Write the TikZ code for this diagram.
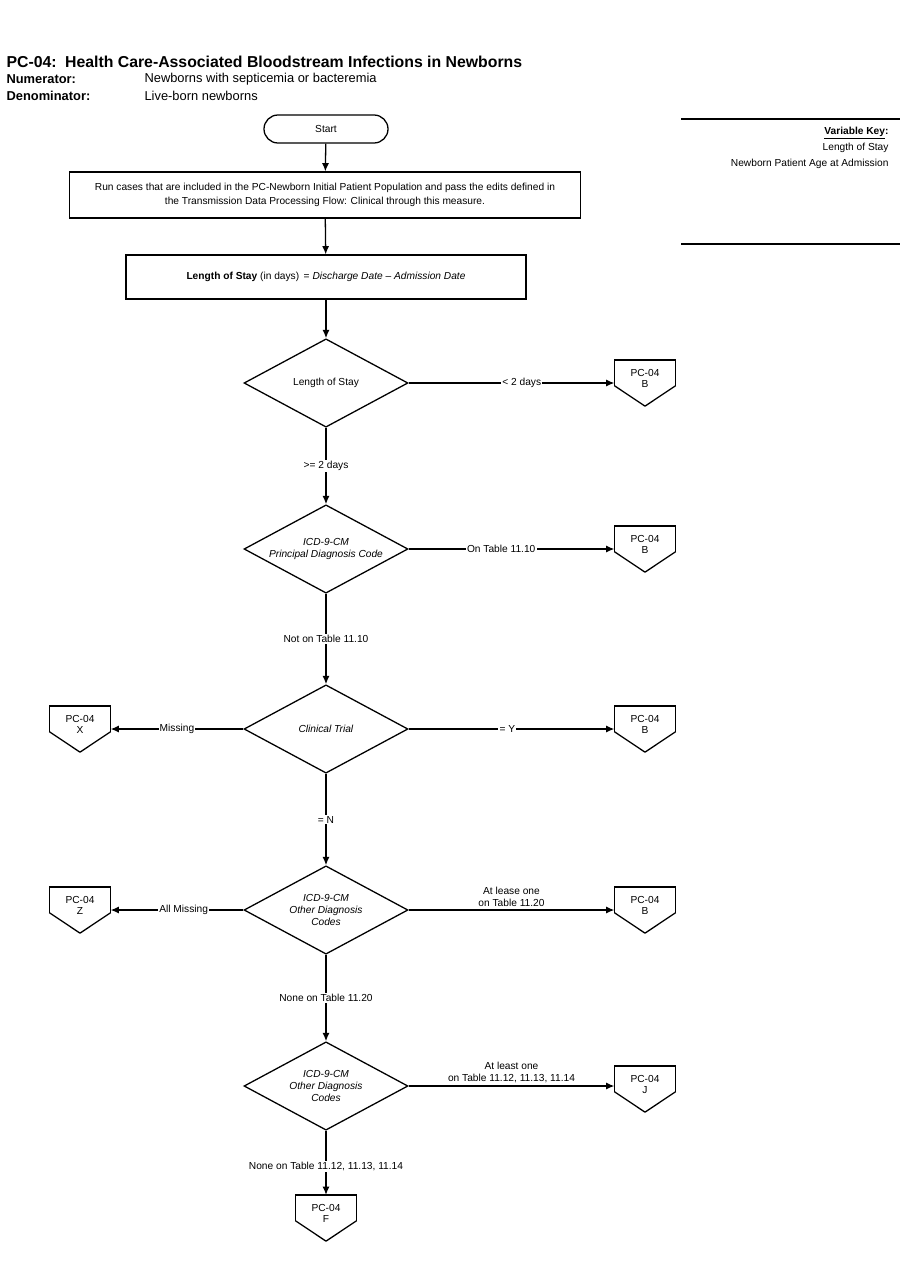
\documentclass[tikz,border=0pt]{standalone}
\usepackage{fontspec}
\setmainfont{Liberation Sans}
\usetikzlibrary{shapes.geometric,positioning,arrows.meta}
\begin{document}
\begin{tikzpicture}[x=0.03cm,y=-0.03cm,font=\fontsize{8.7}{10.5}\selectfont,line width=1.1pt]

\tikzset{>={Latex[length=7pt,width=6pt]}}
\tikzset{
  procbox/.style={draw,align=center,inner sep=0pt},
  decision/.style={draw,diamond,inner sep=0pt,
    minimum width=4.92cm,minimum height=2.65cm,label={[align=center]center:#1}},
  offpage/.style={align=center,inner sep=0pt,minimum width=1.8cm,minimum height=1.35cm,
    append after command={\pgfextra{\let\pn\tikzlastnode}
      (\pn.north west) edge[draw,-] (\pn.north east)
      (\pn.north east) edge[draw,-] ([yshift=-0.08cm]\pn.east)
      ([yshift=-0.08cm]\pn.east) edge[draw,-] (\pn.south)
      (\pn.south) edge[draw,-] ([yshift=-0.08cm]\pn.west)
      ([yshift=-0.08cm]\pn.west) edge[draw,-] (\pn.north west)}},
  flow/.style={->},
  lbl/.style={fill=white,inner sep=1pt,align=center}
}
\def\mainX{326}
\def\offX{645}
\def\leftX{80}

\useasboundingbox (0,0) rectangle (901,1287);

% header
\node[anchor=west,font=\fontsize{13.5}{15}\selectfont\bfseries] (title) at (2,62)
  {PC-04:\, Health Care-Associated Bloodstream Infections in Newborns};
\node[anchor=west,font=\fontsize{11}{12}\selectfont\bfseries] (numl) at (2,79) {Numerator:};
\node[anchor=west,font=\fontsize{11}{12}\selectfont] (numt) at (140,79) {Newborns with septicemia or bacteremia};
\node[anchor=west,font=\fontsize{11}{12}\selectfont\bfseries] (denl) at (2,96) {Denominator:};
\node[anchor=west,font=\fontsize{11}{12}\selectfont] (dent) at (140,96) {Live-born newborns};

% variable key
\draw (681,119) -- (900,119);
\draw (681,244) -- (900,244);
\node[anchor=east,font=\fontsize{8.7}{10}\selectfont\bfseries] (vkey) at (893,133) {\underline{Variable Key}:};
\node[anchor=east] (vk1) at (893,148) {Length of Stay};
\node[anchor=east] (vk2) at (893,164) {Newborn Patient Age at Admission};

% main flow
\node[draw,rounded corners=0.42cm,minimum width=3.72cm,minimum height=0.84cm] (start) at (\mainX,129) {Start};
\node[procbox,minimum width=15.33cm,minimum height=1.38cm] (run) at (325,195)
  {Run cases that are included in the PC-Newborn Initial Patient Population and pass the edits defined in\\[1pt]
   the Transmission Data Processing Flow: Clinical through this measure.};
\node[procbox,minimum width=12cm,minimum height=1.32cm] (los) at (\mainX,277)
  {\textbf{Length of Stay} (in days)\, = \textit{Discharge Date -- Admission Date}};

\node[decision={Length of Stay}] (d1) at (\mainX,383) {};
\node[decision={\textit{ICD-9-CM}\\\textit{Principal Diagnosis Code}}] (d2) at (\mainX,549) {};
\node[decision={\textit{Clinical Trial}}] (d3) at (\mainX,729) {};
\node[decision={\textit{ICD-9-CM}\\\textit{Other Diagnosis}\\\textit{Codes}}] (d4) at (\mainX,910) {};
\node[decision={\textit{ICD-9-CM}\\\textit{Other Diagnosis}\\\textit{Codes}}] (d5) at (\mainX,1086) {};

\node[offpage] (b1) at (\offX,383) {\raisebox{8pt}{\shortstack{PC-04\\B}}};
\node[offpage] (b2) at (\offX,549) {\raisebox{8pt}{\shortstack{PC-04\\B}}};
\node[offpage] (b3) at (\offX,729) {\raisebox{8pt}{\shortstack{PC-04\\B}}};
\node[offpage] (b4) at (\offX,910) {\raisebox{8pt}{\shortstack{PC-04\\B}}};
\node[offpage] (j) at (\offX,1089) {\raisebox{8pt}{\shortstack{PC-04\\J}}};
\node[offpage] (x) at (\leftX,729) {\raisebox{8pt}{\shortstack{PC-04\\X}}};
\node[offpage] (z) at (\leftX,910) {\raisebox{8pt}{\shortstack{PC-04\\Z}}};
\node[offpage] (f) at (\mainX,1218) {\raisebox{8pt}{\shortstack{PC-04\\F}}};

\draw[flow] (start) -- (run);
\draw[flow] (run) -- (los);
\draw[flow] (los) -- (d1);

\draw[flow] (d1) -- node[lbl,pos=.5] {>= 2 days} (d2);
\draw[flow] (d2) -- node[lbl,pos=.5] {Not on Table 11.10} (d3);
\draw[flow] (d3) -- node[lbl,pos=.5] {= N} (d4);
\draw[flow] (d4) -- node[lbl,pos=.5] {None on Table 11.20} (d5);
\draw[flow] (d5) -- node[lbl,pos=.55] {None on Table 11.12, 11.13, 11.14} (f);

\draw[flow] (d1) -- node[lbl,pos=.55] {< 2 days} (b1);
\draw[flow] (d2) -- node[lbl,pos=.45] {On Table 11.10} (b2);
\draw[flow] (d3) -- node[lbl,pos=.48] {= Y} (b3);
\draw[flow] (d4) -- node[above=-1pt,pos=.5,align=center] {At lease one\\on Table 11.20} (b4);
\draw[flow] (d5.east) -- node[above=-1pt,pos=.5,align=center] {At least one\\on Table 11.12, 11.13, 11.14} (j.west |- d5.east);
\draw[flow] (d3) -- node[lbl,pos=.5] {Missing} (x);
\draw[flow] (d4) -- node[lbl,pos=.45] {All Missing} (z);

\end{tikzpicture}
\end{document}
